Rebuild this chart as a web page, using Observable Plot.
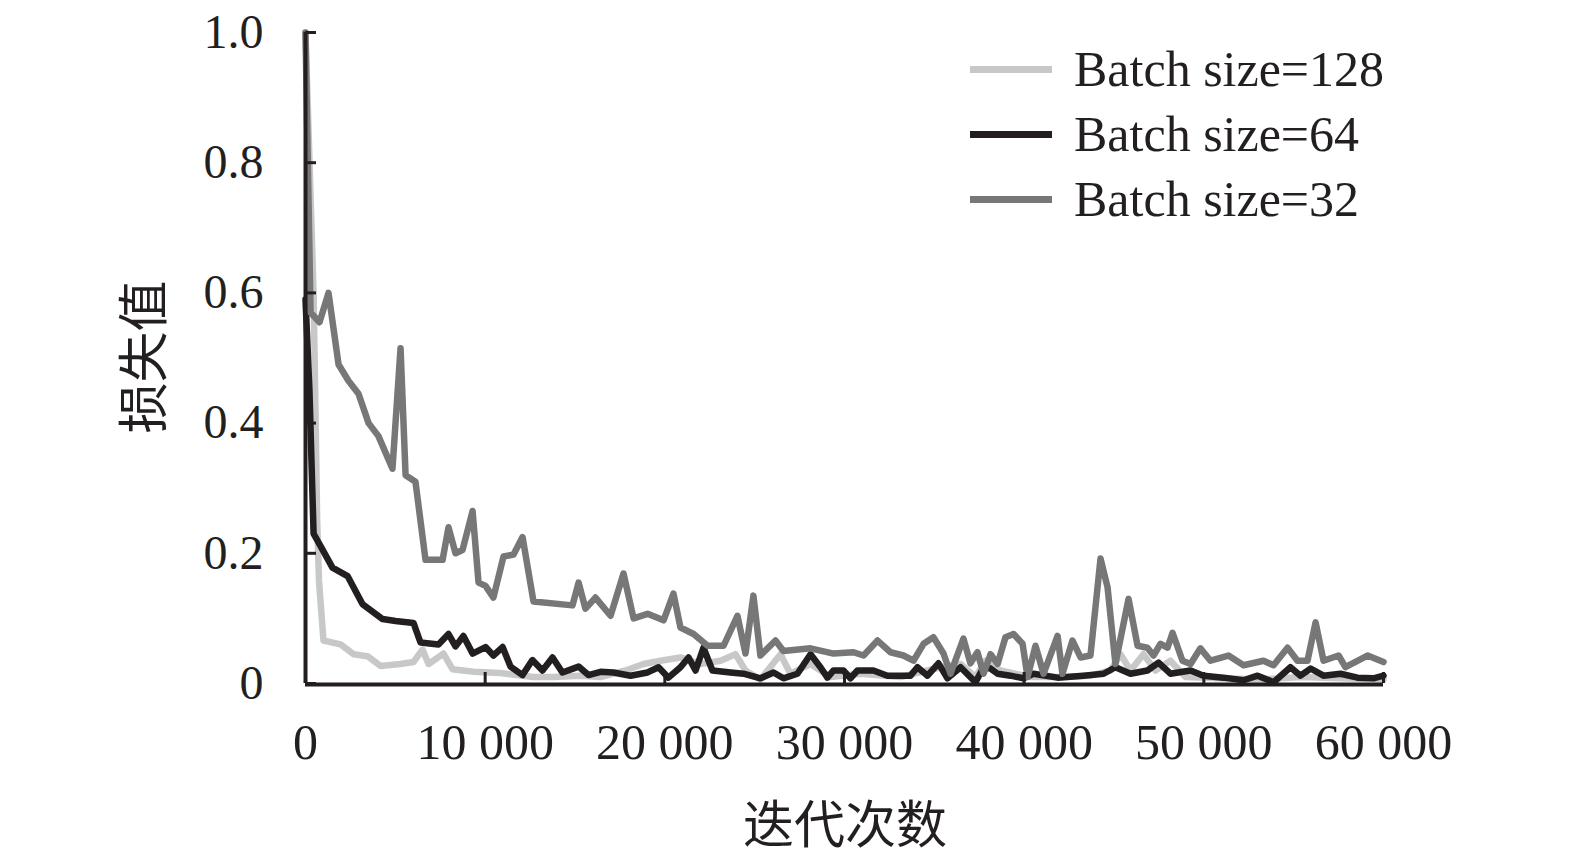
<!DOCTYPE html>
<html>
<head>
<meta charset="utf-8">
<script src="https://cdn.jsdelivr.net/npm/d3@7"></script>
<script src="https://cdn.jsdelivr.net/npm/@observablehq/plot@0.6"></script>
<style>
  body { margin: 0; background: #fff; }
  #wrap { position: relative; width: 1575px; height: 856px; }
  #legend { position: absolute; left: 970px; top: 37px; font-family: "Liberation Serif", serif; font-size: 50px; color: #231f20; }
  .row { display: flex; align-items: center; height: 65px; line-height: 65px; }
  .sw { width: 82px; height: 7px; margin-right: 22px; }
  #xtitle { position: absolute; left: 645px; width: 400px; top: 794px; text-align: center; font-family: "Noto Sans CJK SC", sans-serif; font-size: 51px; line-height: 54px; color: #231f20; }
  #ytitle { position: absolute; left: 140px; top: 357px; transform: translate(-50%, -50%) rotate(-90deg); font-family: "Noto Sans CJK SC", sans-serif; font-size: 51px; line-height: 54px; color: #231f20; white-space: nowrap; }
</style>
</head>
<body>
<div id="wrap"></div>
<script>
// ---- data ----
const seriesNames = ["Batch size=128", "Batch size=64", "Batch size=32"];
const seriesColors = ["#c8c8c8", "#231f20", "#777777"];

const x128 = [0, 450, 650, 750, 1000, 1950, 2670, 3450, 4170, 5290, 6010, 6510, 6850, 7680, 8180, 9350, 10850, 12690, 13800, 15310, 16420, 17810, 18810, 19760, 20870, 21990, 23100, 23930, 24490, 25320, 26440, 26990, 28110, 29220, 30890, 33120, 35340, 36460, 37290, 37850, 38680, 40350, 42020, 43690, 44810, 45360, 45920, 46640, 47310, 48140, 48980, 50930, 53150, 55380, 57610, 60000];
const y128 = [1.0, 0.6, 0.25, 0.158, 0.066, 0.06, 0.045, 0.042, 0.027, 0.03, 0.033, 0.052, 0.03, 0.046, 0.022, 0.018, 0.016, 0.01, 0.01, 0.012, 0.01, 0.02, 0.03, 0.035, 0.04, 0.03, 0.035, 0.045, 0.02, 0.006, 0.045, 0.015, 0.03, 0.01, 0.015, 0.01, 0.025, 0.03, 0.01, 0.035, 0.02, 0.01, 0.01, 0.012, 0.02, 0.045, 0.02, 0.045, 0.02, 0.035, 0.01, 0.008, 0.006, 0.01, 0.008, 0.006];

const x64 = [0, 220, 450, 840, 1500, 2340, 3170, 4290, 5010, 6010, 6400, 7400, 7960, 8350, 8790, 9300, 10020, 10460, 10970, 11410, 12080, 12630, 13190, 13750, 14300, 15200, 15750, 16420, 17140, 18090, 19040, 19650, 20200, 20870, 21320, 21710, 22150, 22650, 23660, 24380, 25320, 26050, 26600, 27380, 28110, 28660, 29050, 29390, 29940, 30330, 30720, 31610, 32390, 33670, 34060, 34620, 35230, 35730, 36460, 37290, 37740, 38130, 38520, 39240, 39960, 40520, 41860, 43300, 44420, 45080, 45920, 46860, 47480, 48140, 49260, 49980, 51090, 52210, 52990, 53880, 54820, 55380, 55940, 56660, 57610, 58550, 59440, 60000];
const y64 = [0.59, 0.45, 0.23, 0.211, 0.178, 0.165, 0.122, 0.099, 0.096, 0.093, 0.063, 0.06, 0.076, 0.057, 0.073, 0.046, 0.056, 0.043, 0.056, 0.026, 0.013, 0.036, 0.02, 0.04, 0.017, 0.026, 0.013, 0.018, 0.017, 0.012, 0.017, 0.025, 0.009, 0.025, 0.04, 0.02, 0.055, 0.02, 0.017, 0.015, 0.008, 0.017, 0.008, 0.015, 0.045, 0.025, 0.009, 0.02, 0.02, 0.008, 0.02, 0.02, 0.012, 0.012, 0.025, 0.012, 0.031, 0.008, 0.025, 0.002, 0.025, 0.023, 0.015, 0.012, 0.008, 0.015, 0.009, 0.012, 0.015, 0.025, 0.015, 0.02, 0.032, 0.015, 0.02, 0.012, 0.009, 0.005, 0.012, 0.002, 0.025, 0.012, 0.023, 0.012, 0.015, 0.009, 0.008, 0.012];

const x32 = [0, 280, 780, 1280, 1840, 2390, 2950, 3510, 4060, 4840, 5290, 5570, 6120, 6680, 7630, 7960, 8350, 8740, 9300, 9630, 10020, 10460, 11020, 11580, 12080, 12690, 14860, 15200, 15580, 16140, 16980, 17700, 18260, 19040, 19930, 20480, 20870, 21600, 22380, 23270, 24040, 24490, 24930, 25320, 26160, 26600, 28110, 29390, 30500, 31060, 31840, 32560, 33280, 33840, 34400, 34950, 35510, 35900, 36620, 37010, 37400, 37740, 38130, 38520, 38960, 39410, 39910, 40190, 40630, 41080, 41860, 42130, 42690, 43140, 43690, 44250, 44640, 45080, 45810, 46310, 46860, 47200, 47590, 47980, 48260, 48810, 49260, 49810, 50370, 51370, 52210, 53320, 53880, 54660, 55210, 55770, 56220, 56660, 57500, 57880, 59110, 60000];
const y32 = [1.0, 0.57, 0.555, 0.60, 0.49, 0.465, 0.445, 0.40, 0.38, 0.33, 0.515, 0.32, 0.31, 0.19, 0.19, 0.24, 0.20, 0.205, 0.265, 0.155, 0.15, 0.132, 0.195, 0.198, 0.225, 0.126, 0.12, 0.155, 0.115, 0.132, 0.104, 0.169, 0.10, 0.107, 0.097, 0.138, 0.086, 0.076, 0.058, 0.058, 0.104, 0.046, 0.135, 0.043, 0.066, 0.05, 0.054, 0.046, 0.048, 0.043, 0.066, 0.048, 0.043, 0.035, 0.061, 0.071, 0.046, 0.015, 0.069, 0.031, 0.048, 0.015, 0.045, 0.03, 0.071, 0.076, 0.061, 0.01, 0.058, 0.015, 0.073, 0.015, 0.066, 0.04, 0.043, 0.192, 0.148, 0.03, 0.13, 0.058, 0.055, 0.043, 0.061, 0.055, 0.078, 0.035, 0.03, 0.054, 0.035, 0.043, 0.028, 0.035, 0.028, 0.055, 0.035, 0.035, 0.094, 0.035, 0.043, 0.025, 0.043, 0.033];

const yTicks = [0, 0.2, 0.4, 0.6, 0.8, 1.0];
const yTickLabels = ["0", "0.2", "0.4", "0.6", "0.8", "1.0"];
const xTicks = [0, 10000, 20000, 30000, 40000, 50000, 60000];
const xTickLabels = ["0", "10 000", "20 000", "30 000", "40 000", "50 000", "60 000"];
const xTitle = "迭代次数";
const yTitle = "损失值";

// ---- build ----
const xs = [x128, x64, x32];
const ys = [y128, y64, y32];
const lines = xs.map((xa, k) => xa.map((x, i) => ({x, y: ys[k][i], s: seriesNames[k]})));
const ink = "#231f20";

const chart = Plot.plot({
  width: 1575,
  height: 856,
  marginLeft: 305,
  marginRight: 192,
  marginTop: 32,
  marginBottom: 173,
  x: {domain: [0, 60000]},
  y: {domain: [0, 1]},
  style: {fontFamily: "'Liberation Serif', serif", color: ink, background: "#fff"},
  marks: [
    ...lines.map((d, k) => Plot.lineY(d, {x: "x", y: "y", stroke: seriesColors[k], strokeWidth: 6.5})),
    Plot.ruleX([0], {stroke: ink, strokeWidth: 4}),
    Plot.ruleY([0], {stroke: ink, strokeWidth: 4, dy: 1}),
    Plot.axisY({ticks: yTicks, tickFormat: d => yTickLabels[yTicks.indexOf(d)], tickSize: 0, tickPadding: 42, fontSize: 48, label: null}),
    Plot.axisY({ticks: yTicks, tickSize: -11, text: null, strokeWidth: 3, label: null}),
    Plot.axisX({ticks: xTicks, tickFormat: d => xTickLabels[xTicks.indexOf(d)], tickSize: 0, tickPadding: 40, fontSize: 50, label: null}),
    Plot.axisX({ticks: xTicks, tickSize: -11, text: null, strokeWidth: 3, label: null})
  ]
});

const wrap = document.getElementById("wrap");
wrap.appendChild(chart);

const legend = document.createElement("div");
legend.id = "legend";
seriesNames.forEach((name, k) => {
  const row = document.createElement("div");
  row.className = "row";
  const sw = document.createElement("div");
  sw.className = "sw";
  sw.style.background = seriesColors[k];
  const t = document.createElement("span");
  t.textContent = name;
  row.appendChild(sw);
  row.appendChild(t);
  legend.appendChild(row);
});
wrap.appendChild(legend);

const xt = document.createElement("div");
xt.id = "xtitle";
xt.textContent = xTitle;
wrap.appendChild(xt);

const yt = document.createElement("div");
yt.id = "ytitle";
yt.textContent = yTitle;
wrap.appendChild(yt);
</script>
</body>
</html>
